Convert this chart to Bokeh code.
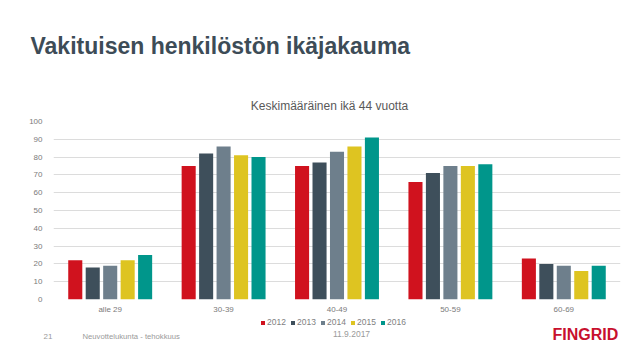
from bokeh.plotting import figure
from bokeh.models import (ColumnDataSource, FactorRange, Range1d, Label, Legend, LegendItem,
                          SingleIntervalTicker)
from bokeh.layouts import column
from bokeh.transform import dodge
from bokeh.embed import file_html
from bokeh.resources import INLINE

categories = ["alle 29", "30-39", "40-49", "50-59", "60-69"]
years = ["2012", "2013", "2014", "2015", "2016"]
v2012 = [22, 75, 75, 66, 23]
v2013 = [18, 82, 77, 71, 20]
v2014 = [19, 86, 83, 75, 19]
v2015 = [22, 81, 86, 75, 16]
v2016 = [25, 80, 91, 76, 19]
series = [v2012, v2013, v2014, v2015, v2016]
colors = ["#D0121E", "#3E4F5B", "#6E7F8C", "#DEC421", "#00968B"]

title_text = "Vakituisen henkilöstön ikäjakauma"
subtitle_text = "Keskimääräinen ikä 44 vuotta"
page_no = "21"
footer_text = "Neuvottelukunta  - tehokkuus"
date_text = "11.9.2017"
logo_text = "FINGRID"

FONT = "Liberation Sans"
W = 632

data = {"cat": categories}
for y, s in zip(years, series):
    data["y" + y] = s
source = ColumnDataSource(data)
x_range = FactorRange(*categories, range_padding=0)


def blank(h):
    f = figure(width=W, height=h, x_range=x_range, y_range=Range1d(0, h),
               x_axis_type=None, y_axis_type=None, output_backend="svg",
               toolbar_location=None, min_border=0, frame_align=False)
    f.outline_line_color = None
    f.grid.visible = False
    return f


def lab(f, text, x, y, size, color, style="normal", align="left"):
    f.add_layout(Label(x=x, y=y, x_units="screen", y_units="screen", text=text,
                       text_font=FONT, text_font_size=size, text_color=color,
                       text_font_style=style, text_align=align, text_baseline="middle"))


# ---- header
top = blank(113)
lab(top, title_text, 30, 68, "23px", "#3D4C57", style="bold")
lab(top, subtitle_text, 329, 8, "12px", "#595959", align="center")

# ---- main chart
p = figure(width=W, height=203, x_range=x_range,
           y_range=Range1d(0, 100), output_backend="svg", toolbar_location=None,
           min_border_left=53, min_border_right=12, min_border_top=8, min_border_bottom=16)
p.outline_line_color = None

offsets = [-0.308, -0.154, 0.0, 0.154, 0.308]
for y, c, off in zip(years, colors, offsets):
    p.vbar(x=dodge("cat", off, range=x_range), top="y" + y, width=0.124,
           source=source, fill_color=c, line_color=None)

p.yaxis.ticker = SingleIntervalTicker(interval=10)
for ax in (p.xaxis[0], p.yaxis[0]):
    ax.axis_line_color = None
    ax.major_tick_line_color = None
    ax.minor_tick_line_color = None
    ax.major_tick_in = 0
    ax.major_tick_out = 0
    ax.major_label_text_font = FONT
    ax.major_label_text_font_size = "8px"
    ax.major_label_text_color = "#7a7a7a"
p.yaxis.major_label_standoff = 7
p.xaxis.major_label_standoff = 5
p.xgrid.grid_line_color = None
p.ygrid.grid_line_color = "#DCDCDC"
p.ygrid.grid_line_width = 1

# ---- footer with legend (zero-size swatch renderers fed by the same data)
bot = blank(36)
items = []
for y, c in zip(years, colors):
    r = bot.vbar(x="cat", top="y" + y, bottom="y" + y, width=0, source=source,
                 fill_color=c, line_color=None)
    items.append(LegendItem(label=y, renderers=[r]))
legend = Legend(items=items, location=(260, 25), orientation="horizontal")
legend.glyph_width = 5
legend.glyph_height = 5
legend.label_standoff = 2
legend.spacing = 3
legend.padding = 0
legend.margin = 0
legend.label_text_font = FONT
legend.label_text_font_size = "8.5px"
legend.label_text_color = "#7f7f7f"
legend.label_height = 8
legend.border_line_color = None
legend.background_fill_alpha = 0
bot.add_layout(legend)

lab(bot, page_no, 43, 16, "8px", "#9a9a9a")
lab(bot, footer_text, 82, 16, "7.7px", "#9a9a9a")
lab(bot, date_text, 351, 19, "8.5px", "#9a9a9a", align="center")
lab(bot, logo_text, 552, 18, "16px", "#C8102E", style="bold")

layout = column(top, p, bot, spacing=0)
open("out.html", "w").write(file_html(layout, INLINE))
